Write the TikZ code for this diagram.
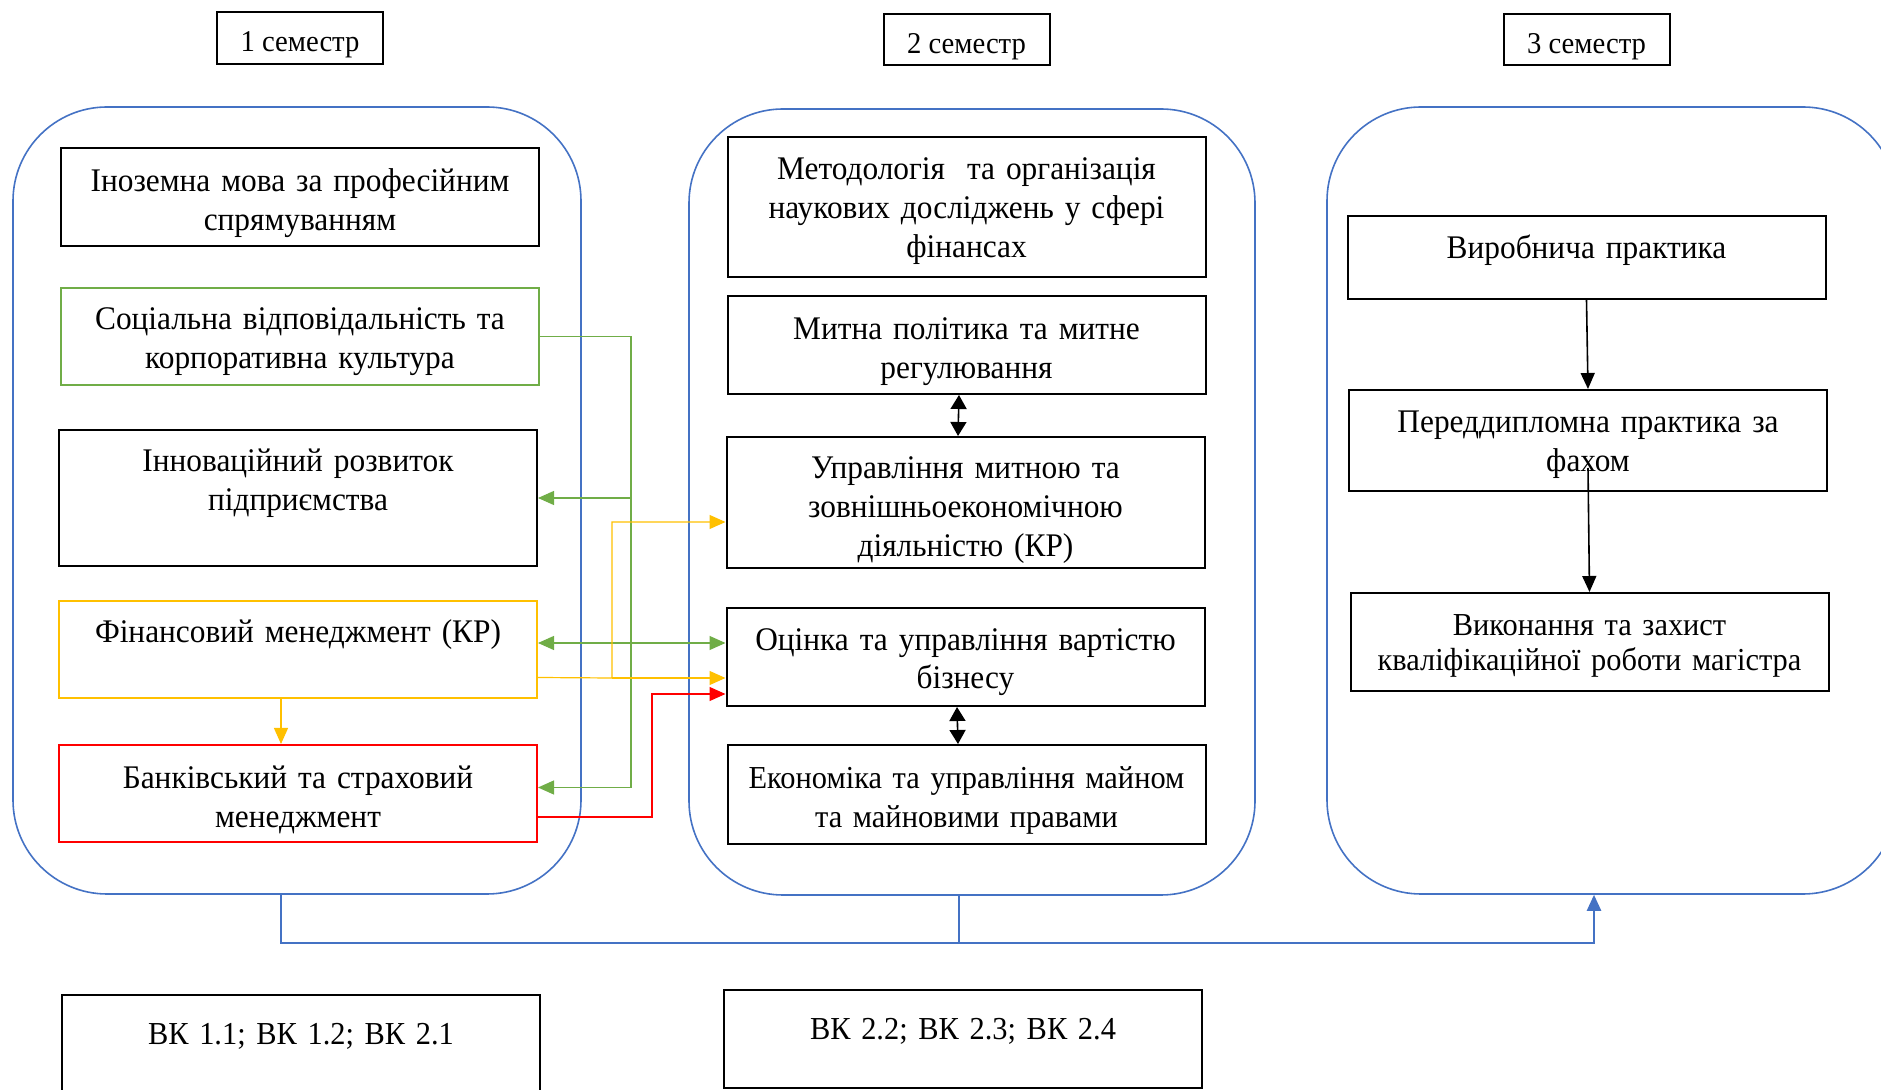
\documentclass[tikz,border=0pt]{standalone}
\usepackage{fontspec}
\setmainfont{Liberation Serif}[FakeStretch=0.95]
\usepackage{tikz}
\usetikzlibrary{arrows.meta}

\definecolor{grpblue}{RGB}{68,114,196}
\definecolor{lgreen}{RGB}{112,173,71}
\definecolor{lyellow}{RGB}{255,192,0}
\definecolor{lred}{RGB}{255,0,0}

\begin{document}
\begin{tikzpicture}[x=0.5pt,y=-0.5pt,font=\fontsize{16.5}{19.4}\selectfont,
  sem/.style={rectangle,draw=black,line width=1pt,inner sep=0pt,minimum width=83pt,font=\fontsize{15.1}{18}\selectfont},
  grp/.style={rectangle,draw=grpblue,line width=0.8pt,rounded corners=47pt},
  subj/.style={rectangle,draw=black,line width=1pt,inner sep=0pt,text width=236pt,align=center,minimum width=239pt},
  tip/.style={-{Triangle[length=8pt,width=7pt]}},
  both/.style={{Triangle[length=8pt,width=7pt]}-{Triangle[length=8pt,width=7pt]}},
  bigboth/.style={{Triangle[length=7pt,width=8pt]}-{Triangle[length=7pt,width=8pt]}}]
\useasboundingbox (0,0) rectangle (1881,1090);
\clip (0,0) rectangle (1881,1090);
%Semester headers
\node at (300,38) [sem,text height=19.7pt,text depth=6.3pt] (Sem1) {1 семестр};
\node at (966.5,39.5) [sem,text height=19.7pt,text depth=5.8pt] (Sem2) {2 семестр};
\node at (1586.5,39.5) [sem,text height=19.7pt,text depth=5.8pt] (Sem3) {3 семестр};
%Semester groups
\node at (297,500.5) [grp,minimum width=284pt,minimum height=393.5pt] (Group1) {};
\node at (972,502) [grp,minimum width=283pt,minimum height=393pt] (Group2) {};
\node at (1612,500.5) [grp,minimum width=285pt,minimum height=393.5pt] (Group3) {};
%Semester 1
\node at (300,197) [subj,text height=21.9pt,text depth=27.1pt] (Subj11) {Іноземна мова за професійним\\ спрямуванням};
\node at (300,336.5) [subj,draw=lgreen,text height=20.9pt,text depth=27.6pt] (Subj12) {Соціальна відповідальність та\\ корпоративна культура};
\node at (298,498) [subj,text height=20.9pt,text depth=47.1pt] (Subj13) {Інноваційний розвиток\\ підприємства};
\node at (298,649.5) [subj,draw=lyellow,text height=20.9pt,text depth=27.6pt] (Subj14) {Фінансовий менеджмент (КР)};
\node at (298,793.5) [subj,draw=lred,text height=21.6pt,text depth=26.9pt] (Subj15) {Банківський та страховий\\ менеджмент};
%Semester 2
\node at (966.5,207) [subj,text height=21.4pt,text depth=48.6pt] (Subj21) {Методологія~ та організація\\ наукових досліджень у сфері\\ фінансах};
\node at (966.5,345) [subj,text height=21.7pt,text depth=27.3pt] (Subj22) {Митна політика та митне\\ регулювання};
\node at (965.5,502.5) [subj,text height=20.8pt,text depth=44.7pt] (Subj23) {Управління митною та\\ зовнішньоекономічною\\ діяльністю (КР)};
\node at (965.5,657) [subj,text height=21.1pt,text depth=27.9pt] (Subj24) {Оцінка та управління вартістю\\ бізнесу};
\node at (966.5,794.5) [subj,font=\fontsize{16}{19.4}\selectfont,text height=21.6pt,text depth=27.9pt] (Subj25) {Економіка та управління майном\\ та майновими правами};
%Semester 3
\node at (1586.5,257.5) [subj,text height=21.4pt,text depth=20.1pt] (Subj31) {Виробнича практика};
\node at (1588,440.5) [subj,text height=21.5pt,text depth=29pt] (Subj32) {Переддипломна практика за\\ фахом};
\node at (1589.5,642) [subj,font=\fontsize{16}{17.6}\selectfont,text height=21.4pt,text depth=27.6pt] (Subj33) {Виконання та захист\\ кваліфікаційної роботи магістра};
%Competences
\node at (301,1047.5) [subj,font=\fontsize{16}{19}\selectfont,text height=24.9pt,text depth=27.6pt] (Comp1) {ВК 1.1; ВК 1.2; ВК 2.1};
\node at (963,1039) [subj,font=\fontsize{16}{19}\selectfont,text height=24.9pt,text depth=24.1pt] (Comp2) {ВК 2.2; ВК 2.3; ВК 2.4};
%Bus points
\coordinate (Bus1) at (281,943);
\coordinate (Bus2) at (959,943);
\coordinate (Bus3) at (1594,943);
\coordinate (GreenBus) at (631,498);
\coordinate (YellowBus) at (612,678);
\coordinate (RedBus) at (652,694);
%Connections
\draw [grpblue,line width=1.2pt,tip] (Bus1 |- Group1.south) -- (Bus1) -- (Bus3) -- (Bus3 |- Group3.south);
\draw [grpblue,line width=0.6pt] (Bus2 |- Group2.south) -- (Bus2);
\draw [lgreen,line width=0.6pt,tip] (Subj12.east) -| (GreenBus) |- ([yshift=3pt]Subj15.east);
\draw [lgreen,line width=0.6pt,tip] (GreenBus) -- (Subj13.east);
\draw [lgreen,line width=0.6pt,both] ([yshift=3.25pt]Subj14.east) -- ([yshift=3.25pt]Subj14.east -| Subj24.west);
\draw [lyellow,line width=0.6pt,tip] ([yshift=-14pt]Subj14.east) -- (YellowBus) |- ([yshift=-9.75pt]Subj23.west);
\draw [lyellow,line width=0.6pt,tip] (YellowBus) -- (YellowBus -| Subj24.west);
\draw [lyellow,line width=0.6pt,tip] ([xshift=-8.5pt]Subj14.south) -- ([xshift=-8.5pt]Subj15.north);
\draw [lred,line width=0.6pt,tip] ([yshift=-11.75pt]Subj15.east) -| (RedBus) -- (RedBus -| Subj24.west);
\draw [line width=0.8pt,bigboth] ([xshift=-3.75pt]Subj22.south) -- ([xshift=-3.75pt]Subj23.north);
\draw [line width=0.8pt,bigboth] ([xshift=-4.25pt]Subj24.south) -- ([xshift=-4.25pt]Subj25.north);
\draw [line width=0.8pt,tip] (Subj31.south) -- (Subj32.north);
\draw [line width=0.8pt,tip] ([yshift=12pt]Subj32.south) -- (Subj33.north);
\end{tikzpicture}
\end{document}
